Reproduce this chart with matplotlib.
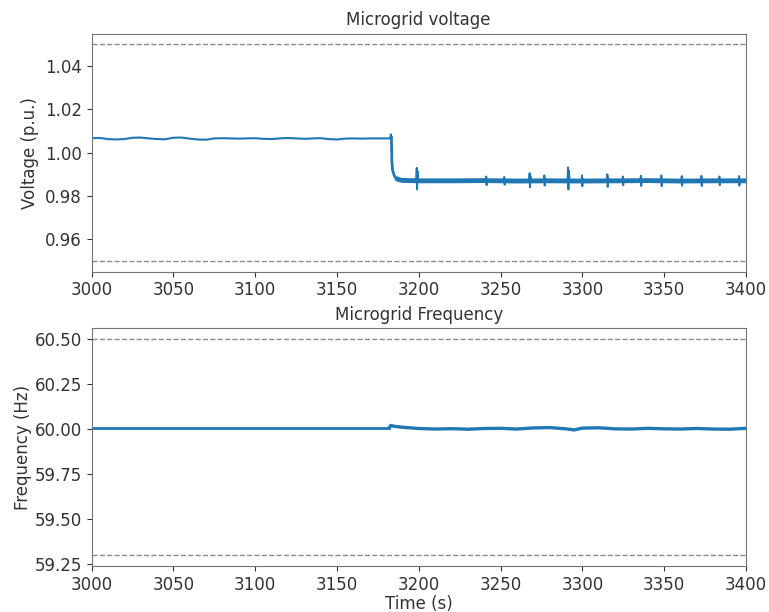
import numpy as np
import matplotlib
matplotlib.use("Agg")
import matplotlib.pyplot as plt

# ---- Voltage data (p.u.) ----
v_pre_t = [3000, 3005, 3010, 3015, 3020, 3025, 3030, 3035, 3040, 3045, 3050, 3055,
           3060, 3065, 3070, 3075, 3080, 3085, 3090, 3095, 3100, 3105, 3110, 3115,
           3120, 3125, 3130, 3135, 3140, 3145, 3150, 3155, 3160, 3165, 3170, 3175,
           3180, 3182.5, 3183.0, 3183.3]
v_pre = [1.0067, 1.0068, 1.0063, 1.0061, 1.0063, 1.0069, 1.0070, 1.0066, 1.0063,
         1.0062, 1.0069, 1.0070, 1.0065, 1.0061, 1.0060, 1.0066, 1.0067, 1.0066,
         1.0065, 1.0066, 1.0067, 1.0064, 1.0063, 1.0066, 1.0068, 1.0066, 1.0064,
         1.0066, 1.0067, 1.0063, 1.0061, 1.0065, 1.0066, 1.0065, 1.0066, 1.0066,
         1.0066, 1.0066, 1.0085, 1.0070]

v_post_t = [3183.3, 3183.6, 3184, 3185, 3186, 3188, 3190, 3200, 3220, 3240, 3260,
            3280, 3300, 3320, 3340, 3360, 3380, 3400]
v_post = [1.0070, 0.9960, 0.9920, 0.9895, 0.9882, 0.9875, 0.9872, 0.9870, 0.9870,
          0.9871, 0.9869, 0.9870, 0.9869, 0.9870, 0.9871, 0.9869, 0.9870, 0.9870]

spike_t = [3199, 3241.5, 3252.5, 3268, 3277, 3291.5, 3300, 3315.5, 3325, 3336,
           3348.5, 3361, 3373, 3384, 3396]
spike_hi = [0.9930, 0.9890, 0.9888, 0.9905, 0.9895, 0.9932, 0.9895, 0.9900, 0.9890,
            0.9893, 0.9895, 0.9892, 0.9893, 0.9890, 0.9892]
spike_lo = [0.9830, 0.9850, 0.9852, 0.9840, 0.9848, 0.9830, 0.9845, 0.9842, 0.9850,
            0.9846, 0.9845, 0.9848, 0.9846, 0.9850, 0.9848]

v_limits = [0.95, 1.05]

# ---- Frequency data (Hz) ----
f_pre_t = [3000, 3050, 3100, 3150, 3182]
f_pre = [60.008, 60.008, 60.008, 60.008, 60.008]
f_post_t = [3182, 3183, 3185, 3190, 3200, 3210, 3220, 3230, 3240, 3250, 3260, 3270,
            3280, 3290, 3295, 3300, 3310, 3320, 3330, 3340, 3350, 3360, 3370, 3380,
            3390, 3400]
f_post = [60.008, 60.020, 60.015, 60.010, 60.003, 60.000, 60.002, 59.999, 60.003,
          60.004, 60.000, 60.006, 60.008, 60.001, 59.995, 60.005, 60.007, 60.001,
          60.000, 60.004, 60.001, 60.000, 60.003, 60.000, 59.999, 60.004]
f_limits = [59.3, 60.5]

x_ticks = [3000, 3050, 3100, 3150, 3200, 3250, 3300, 3350, 3400]

blue = "#1f77b4"
txt = "0.2"
plt.rcParams.update({
    "font.size": 12,
    "text.color": txt,
    "axes.labelcolor": txt,
    "xtick.color": txt,
    "ytick.color": txt,
    "axes.edgecolor": "0.45",
})

fig = plt.figure(figsize=(7.69, 6.12), dpi=100)
ax1 = fig.add_axes([0.119, 0.556, 0.851, 0.389])
ax2 = fig.add_axes([0.119, 0.075, 0.851, 0.389])

# Voltage
ax1.plot(v_pre_t, v_pre, color=blue, lw=1.5)
ax1.plot(v_post_t, v_post, color=blue, lw=2.0)
ax1.plot(v_post_t[4:], v_post[4:], color=blue, lw=3.5, solid_capstyle="butt")
for t, hi, lo in zip(spike_t, spike_hi, spike_lo):
    base = float(np.interp(t, v_post_t, v_post))
    ax1.plot([t - 0.6, t - 0.2, t, t + 0.3, t + 0.7],
             [base, hi, lo, hi - 0.0015, base], color=blue, lw=1.4)
for lim in v_limits:
    ax1.axhline(lim, color="0.55", ls="--", lw=1.0)
ax1.set_xlim(3000, 3400)
ax1.set_ylim(0.945, 1.055)
ax1.set_yticks([0.96, 0.98, 1.00, 1.02, 1.04])
ax1.set_xticks(x_ticks)
ax1.set_ylabel("Voltage (p.u.)")
ax1.set_title("Microgrid voltage", fontsize=12)

# Frequency
ax2.plot(f_pre_t, f_pre, color=blue, lw=2.0)
ax2.plot(f_post_t, f_post, color=blue, lw=2.4)
for lim in f_limits:
    ax2.axhline(lim, color="0.55", ls="--", lw=1.0)
ax2.set_xlim(3000, 3400)
ax2.set_ylim(59.24, 60.56)
ax2.set_yticks([59.25, 59.50, 59.75, 60.00, 60.25, 60.50])
ax2.set_yticklabels(["59.25", "59.50", "59.75", "60.00", "60.25", "60.50"])
ax2.set_xticks(x_ticks)
ax2.set_ylabel("Frequency (Hz)", labelpad=2)
ax2.set_xlabel("Time (s)", labelpad=1)
ax2.set_title("Microgrid Frequency", fontsize=12)

fig.savefig("out.png", dpi=100)
